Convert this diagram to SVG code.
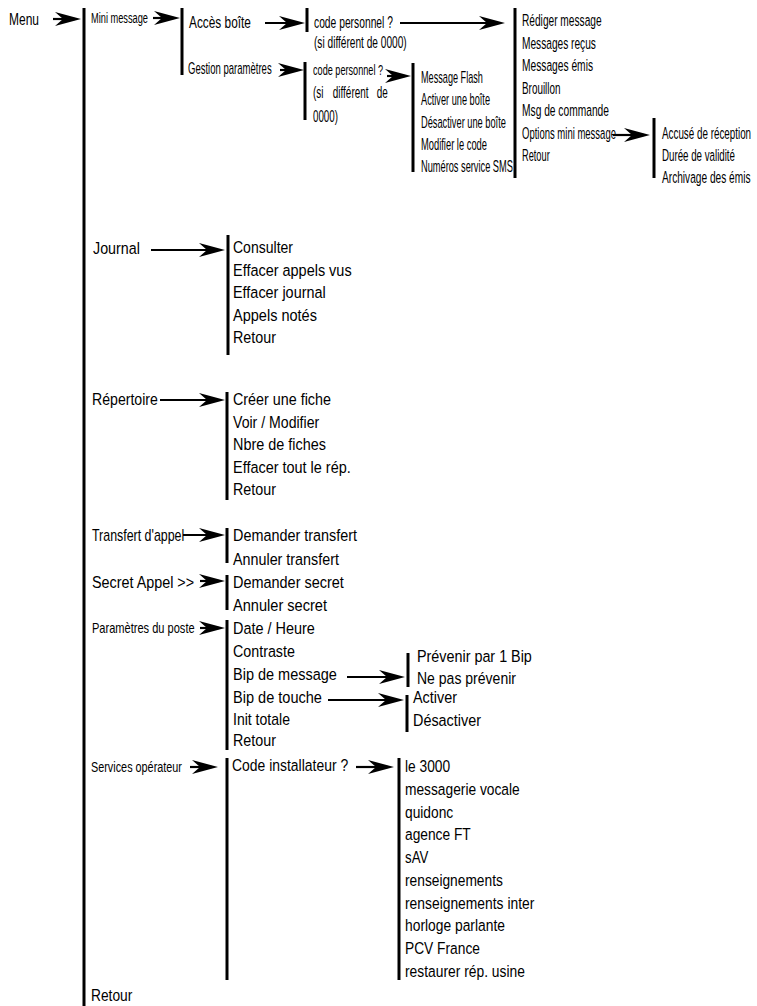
<svg xmlns="http://www.w3.org/2000/svg" width="757" height="1006" viewBox="0 0 757 1006">
<style>
text{font-family:"Liberation Sans",Arial,sans-serif;fill:#000}
.a{font-size:17px}
.b{font-size:16px}
.c{font-size:16.5px}
.s{font-size:14px}
.bar{stroke:#000;stroke-width:3;fill:none}
.arr{stroke:#000;stroke-width:2.2;fill:none;marker-end:url(#ah)}
</style>
<defs>
<marker id="ah" markerUnits="userSpaceOnUse" markerWidth="30" markerHeight="16" viewBox="-27 -8 30 16" refX="-6" refY="0" orient="auto">
<path d="M0,0 L-26,-7 L-18,0 L-26,7 Z" fill="#000"/>
</marker>
</defs>
<rect width="757" height="1006" fill="#fff"/>

<g id="n-menu"><text class="a" transform="translate(9,25) scale(0.706,1)">Menu</text></g>
<g id="n-main-list">
<line class="bar" x1="84" y1="8" x2="84" y2="1006"/>
</g>
<g id="n-mini-message"><text class="s" transform="translate(91,23) scale(0.66,1)">Mini message</text></g>
<g id="n-mini-list">
<line class="bar" x1="182" y1="8" x2="182" y2="75"/>
<text class="a" transform="translate(189,28) scale(0.698,1)">Accès boîte</text>
<text class="b" transform="translate(188,74) scale(0.596,1)">Gestion paramètres</text>
</g>
<g id="n-code1">
<line class="bar" x1="307" y1="8" x2="307" y2="32"/>
<text class="b" transform="translate(314,28) scale(0.644,1)">code personnel ?</text>
<text class="b" transform="translate(314,48) scale(0.634,1)">(si différent de 0000)</text>
</g>
<g id="n-code2">
<line class="bar" x1="305" y1="62" x2="305" y2="120"/>
<text style="font-size:14.5px" transform="translate(313,75) scale(0.63,1)">code personnel ?</text>
<text class="b" transform="translate(313,98) scale(0.62,1)"><tspan x="0">(si</tspan><tspan x="32">différent</tspan><tspan x="103">de</tspan></text>
<text class="b" transform="translate(313,122) scale(0.61,1)">0000)</text>
</g>
<g id="n-gestion-list">
<line class="bar" x1="413" y1="63" x2="413" y2="172"/>
<text class="b" transform="translate(421,83) scale(0.571,1)">Message Flash</text>
<text class="b" transform="translate(421,105) scale(0.575,1)">Activer une boîte</text>
<text class="b" transform="translate(421,128) scale(0.579,1)">Désactiver une boîte</text>
<text class="b" transform="translate(421,150) scale(0.585,1)">Modifier le code</text>
<text class="b" transform="translate(421,172) scale(0.578,1)">Numéros service SMS</text>
</g>
<g id="n-boite-list">
<line class="bar" x1="515" y1="8" x2="515" y2="178"/>
<text class="c" transform="translate(522,26) scale(0.616,1)">Rédiger message</text>
<text class="c" transform="translate(522,49) scale(0.616,1)">Messages reçus</text>
<text class="c" transform="translate(522,71) scale(0.62,1)">Messages émis</text>
<text class="c" transform="translate(522,94) scale(0.6,1)">Brouillon</text>
<text class="c" transform="translate(522,116) scale(0.62,1)">Msg de commande</text>
<text class="c" transform="translate(522,139) scale(0.576,1)">Options mini message</text>
<text class="c" transform="translate(522,161) scale(0.56,1)">Retour</text>
</g>
<g id="n-options-list">
<line class="bar" x1="654" y1="118" x2="654" y2="178"/>
<text class="c" transform="translate(662,139) scale(0.596,1)">Accusé de réception</text>
<text class="c" transform="translate(662,161) scale(0.59,1)">Durée de validité</text>
<text class="c" transform="translate(662,183) scale(0.615,1)">Archivage des émis</text>
</g>

<g id="n-journal"><text class="a" transform="translate(93,254) scale(0.84,1)">Journal</text></g>
<g id="n-journal-list">
<line class="bar" x1="228" y1="235" x2="228" y2="355"/>
<text class="a" transform="translate(233,253) scale(0.825,1)">Consulter</text>
<text class="a" transform="translate(233,276) scale(0.851,1)">Effacer appels vus</text>
<text class="a" transform="translate(233,298) scale(0.849,1)">Effacer journal</text>
<text class="a" transform="translate(233,321) scale(0.855,1)">Appels notés</text>
<text class="a" transform="translate(233,343) scale(0.843,1)">Retour</text>
</g>

<g id="n-repertoire"><text class="a" transform="translate(92,405) scale(0.831,1)">Répertoire</text></g>
<g id="n-repertoire-list">
<line class="bar" x1="227" y1="392" x2="227" y2="500"/>
<text class="a" transform="translate(233,405) scale(0.843,1)">Créer une fiche</text>
<text class="a" transform="translate(233,428) scale(0.83,1)">Voir / Modifier</text>
<text class="a" transform="translate(233,450) scale(0.849,1)">Nbre de fiches</text>
<text class="a" transform="translate(233,473) scale(0.85,1)">Effacer tout le rép.</text>
<text class="a" transform="translate(233,495) scale(0.843,1)">Retour</text>
</g>

<g id="n-transfert"><text class="a" transform="translate(92,541) scale(0.73,1)">Transfert d'appel</text></g>
<g id="n-transfert-list">
<line class="bar" x1="227" y1="528" x2="227" y2="563"/>
<text class="a" transform="translate(233,541) scale(0.847,1)">Demander transfert</text>
<text class="a" transform="translate(233,565) scale(0.843,1)">Annuler transfert</text>
</g>

<g id="n-secret"><text class="a" transform="translate(92,588) scale(0.845,1)">Secret Appel &gt;&gt;</text></g>
<g id="n-secret-list">
<line class="bar" x1="227" y1="575" x2="227" y2="610"/>
<text class="a" transform="translate(233,588) scale(0.851,1)">Demander secret</text>
<text class="a" transform="translate(233,611) scale(0.858,1)">Annuler secret</text>
</g>

<g id="n-parametres"><text class="s" transform="translate(92,633) scale(0.79,1)">Paramètres du poste</text></g>
<g id="n-parametres-list">
<line class="bar" x1="227" y1="620" x2="227" y2="750"/>
<text class="a" transform="translate(233,634) scale(0.85,1)">Date / Heure</text>
<text class="a" transform="translate(233,657) scale(0.841,1)">Contraste</text>
<text class="a" transform="translate(233,680) scale(0.853,1)">Bip de message</text>
<text class="a" transform="translate(233,703) scale(0.856,1)">Bip de touche</text>
<text class="a" transform="translate(233,725) scale(0.826,1)">Init totale</text>
<text class="a" transform="translate(233,746) scale(0.843,1)">Retour</text>
</g>
<g id="n-bipmsg-list">
<line class="bar" x1="408" y1="653" x2="408" y2="687"/>
<text class="a" transform="translate(417,662) scale(0.845,1)">Prévenir par 1 Bip</text>
<text class="a" transform="translate(417,684) scale(0.825,1)">Ne pas prévenir</text>
</g>
<g id="n-biptouche-list">
<line class="bar" x1="407" y1="695" x2="407" y2="732"/>
<text class="a" transform="translate(413,703) scale(0.846,1)">Activer</text>
<text class="a" transform="translate(413,726) scale(0.847,1)">Désactiver</text>
</g>

<g id="n-services"><text style="font-size:15px" transform="translate(91,772) scale(0.723,1)">Services opérateur</text></g>
<g id="n-code-installateur">
<line class="bar" x1="227" y1="758" x2="227" y2="980"/>
<text class="a" transform="translate(232,771) scale(0.82,1)">Code installateur ?</text>
</g>
<g id="n-services-list">
<line class="bar" x1="399" y1="758" x2="399" y2="980"/>
<text class="a" transform="translate(405,772) scale(0.81,1)">le 3000</text>
<text class="a" transform="translate(405,795) scale(0.81,1)">messagerie vocale</text>
<text class="a" transform="translate(405,818) scale(0.81,1)">quidonc</text>
<text class="a" transform="translate(405,840) scale(0.81,1)">agence FT</text>
<text class="a" transform="translate(405,863) scale(0.78,1)">sAV</text>
<text class="a" transform="translate(405,886) scale(0.81,1)">renseignements</text>
<text class="a" transform="translate(405,909) scale(0.815,1)">renseignements inter</text>
<text class="a" transform="translate(405,931) scale(0.814,1)">horloge parlante</text>
<text class="a" transform="translate(405,954) scale(0.81,1)">PCV France</text>
<text class="a" transform="translate(405,977) scale(0.814,1)">restaurer rép. usine</text>
</g>
<g id="n-retour"><text class="a" transform="translate(91,1001) scale(0.81,1)">Retour</text></g>

<g id="connectors">
<line class="arr" x1="53" y1="19" x2="75" y2="19"/>
<line class="arr" x1="153" y1="18" x2="174" y2="18"/>
<line class="arr" x1="265" y1="23" x2="299" y2="23"/>
<line class="arr" x1="400" y1="23" x2="499" y2="23"/>
<line class="arr" x1="280" y1="70" x2="298" y2="70"/>
<line class="arr" x1="387" y1="76" x2="405" y2="76"/>
<line class="arr" x1="613" y1="135" x2="644" y2="135"/>
<line class="arr" x1="151" y1="250" x2="219" y2="250"/>
<line class="arr" x1="160" y1="400" x2="219" y2="400"/>
<line class="arr" x1="183" y1="535" x2="219" y2="535"/>
<line class="arr" x1="200" y1="581" x2="219" y2="581"/>
<line class="arr" x1="200" y1="628" x2="219" y2="628"/>
<line class="arr" x1="347" y1="677" x2="399" y2="677"/>
<line class="arr" x1="328" y1="700" x2="398" y2="700"/>
<line class="arr" x1="190" y1="767" x2="212" y2="767"/>
<line class="arr" x1="356" y1="767" x2="388" y2="767"/>
</g>
</svg>
